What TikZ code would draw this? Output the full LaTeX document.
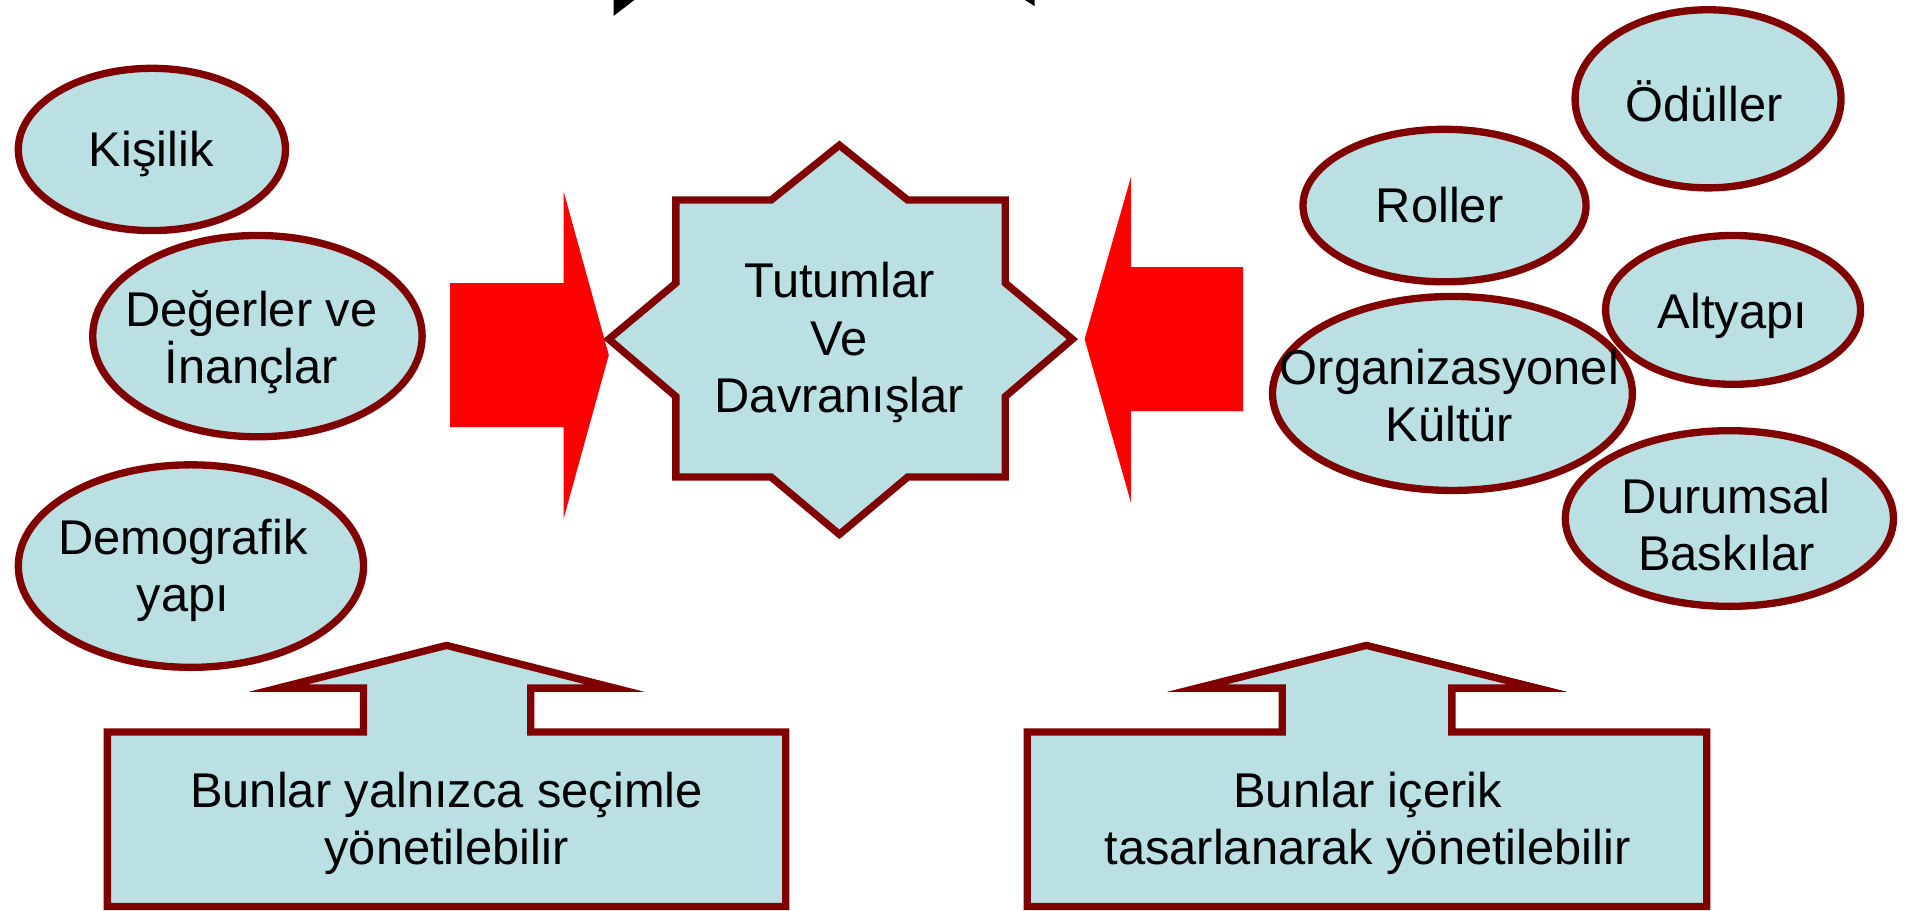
\documentclass[tikz,border=0pt]{standalone}
\usepackage{fontspec}
\setmainfont{Liberation Sans}
\usetikzlibrary{shapes.geometric}
\definecolor{fillblue}{RGB}{187,224,227}
\definecolor{maroon}{RGB}{128,0,0}
\definecolor{arrred}{RGB}{255,0,0}
\begin{document}
\begin{tikzpicture}[x=1pt,y=-1pt,
  oval/.style={ellipse,draw=maroon,fill=fillblue,line width=6pt,inner sep=0pt},
  shapeline/.style={draw=maroon,fill=fillblue,line width=6pt,line join=miter},
  bigarrow/.style={fill=arrred,draw=none},
  tipblack/.style={fill=black,draw=none},
  txt/.style={align=center,inner sep=0pt,font=\fontsize{40}{47}\selectfont}]
\useasboundingbox (0,0) rectangle (1568,746);
% clipped black shapes at the top
\fill[tipblack] (503,0) -- (520,0) -- (503,13) -- cycle;
\fill[tipblack] (840,0) -- (848,0) -- (848,5) -- cycle;
% left ellipses
\node[oval,minimum width=219pt,minimum height=133pt] (kis) at (124.5,122.5) {};
\node[txt] (kist) at (124,126) {Kişilik};
\node[oval,minimum width=270pt,minimum height=165pt] (deg) at (211,275.5) {};
\node[txt] (degt) at (206,280.5) {Değerler ve\\İnançlar};
\node[oval,minimum width=283pt,minimum height=166pt] (dem) at (156.5,464) {};
\node[txt] (demt) at (150,467.5) {Demografik\\yapı};
% right ellipses
\node[oval,minimum width=218pt,minimum height=146pt] (odu) at (1400,81) {};
\node[txt] (odut) at (1397,83) {Ödüller};
\node[oval,minimum width=232pt,minimum height=125pt] (rol) at (1184,168.5) {};
\node[txt] (rolt) at (1180,168) {Roller};
\node[oval,minimum width=209pt,minimum height=122pt] (alt) at (1420.5,254) {};
\node[txt] (altt) at (1420,259) {Altyapı};
\node[oval,minimum width=295pt,minimum height=159pt] (org) at (1190.5,322.5) {};
\node[txt] (orgt) at (1188,324) {Organizasyonel\\Kültür};
\node[oval,minimum width=269pt,minimum height=144pt] (dur) at (1417.5,425) {};
\node[txt] (durt) at (1415,430) {Durumsal\\Baskılar};
% red arrows
\fill[bigarrow] (369,232) -- (462,232) -- (462,157) -- (499,291) -- (462,425) -- (462,350) -- (369,350) -- cycle;
\fill[bigarrow] (1019,219) -- (927,219) -- (927,145) -- (889,278) -- (927,412) -- (927,337) -- (1019,337) -- cycle;
% central star
\draw[shapeline] (688,119) -- (744,164) -- (824,164) -- (824,232) -- (879,278) -- (824,325) -- (824,391) -- (744,391) -- (688,438) -- (632,391) -- (554,391) -- (554,325) -- (499,278) -- (554,232) -- (554,164) -- (632,164) -- cycle;
\node[txt] (star) at (688,281) {Tutumlar\\Ve\\Davranışlar};
% callouts
\draw[shapeline] (88,600) -- (298,600) -- (298,564) -- (228,564) -- (366,529) -- (504,564) -- (435,564) -- (435,600) -- (644,600) -- (644,743) -- (88,743) -- cycle;
\node[txt] (cl) at (366,675) {Bunlar yalnızca seçimle\\yönetilebilir};
\draw[shapeline] (842,600) -- (1051,600) -- (1051,564) -- (981,564) -- (1120,529) -- (1260,564) -- (1190,564) -- (1190,600) -- (1399,600) -- (1399,743) -- (842,743) -- cycle;
\node[txt] (cr) at (1121,675) {Bunlar içerik\\tasarlanarak yönetilebilir};
\end{tikzpicture}
\end{document}
